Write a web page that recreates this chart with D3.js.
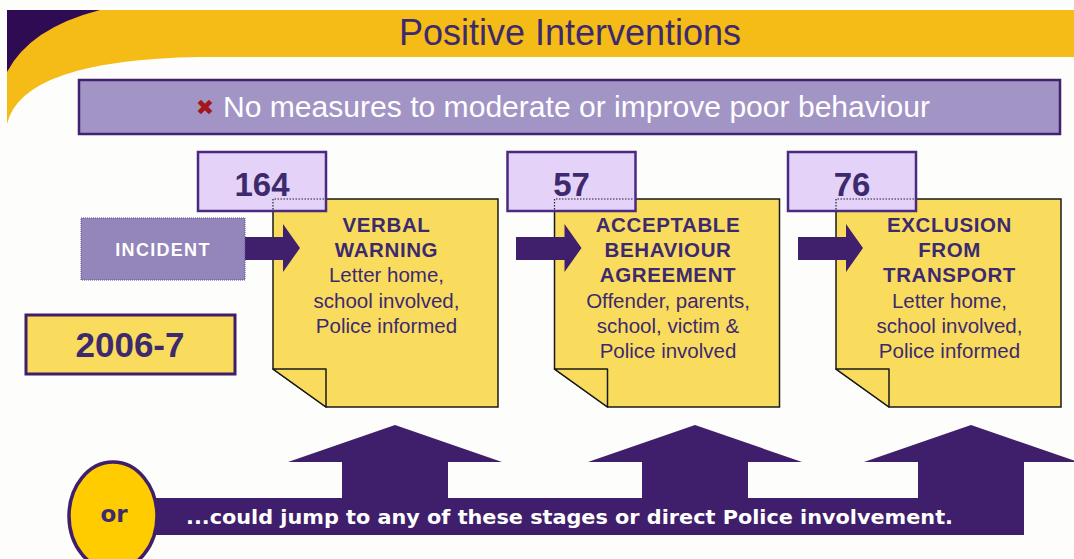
<!DOCTYPE html>
<meta charset="utf-8">
<html>
<head>
  <script src="https://d3js.org/d3.v7.min.js"></script>
  <style>
    body { margin: 0; background: #fdfdfb; }
    svg { display: block; }
  </style>
</head>
<body>
<div id="chart"></div>
<script>
// --- data ---
var title = "Positive Interventions";
var banner = "No measures to moderate or improve poor behaviour";
var year = "2006-7";
var startLabel = "INCIDENT";
var counts = [164, 57, 76];
var stageTitles = [
  ["VERBAL", "WARNING"],
  ["ACCEPTABLE", "BEHAVIOUR", "AGREEMENT"],
  ["EXCLUSION", "FROM", "TRANSPORT"]
];
var stageDetails = [
  ["Letter home,", "school involved,", "Police informed"],
  ["Offender, parents,", "school, victim &", "Police involved"],
  ["Letter home,", "school involved,", "Police informed"]
];
var orLabel = "or";
var footer = "...could jump to any of these stages or direct Police involvement.";

var width = 1074, height = 559;
var purple = "#3f1f6b", ink = "#3d2a6e";
var fontSans = "Liberation Sans, Arial, sans-serif";

var svg = d3.select("#chart").append("svg")
    .attr("width", width)
    .attr("height", height);

// --- header band ---
svg.append("rect").attr("x", 7).attr("y", 10).attr("width", width - 7).attr("height", 47)
    .attr("fill", "#f5bb17");
svg.append("path")
    .attr("d", "M7,57 L7,124 Q22,60 200,57 Z")
    .attr("fill", "#f5bb17");
svg.append("path")
    .attr("d", "M7,10 L100,10 Q30,28 7,72 Z")
    .attr("fill", "#2e0b52");
svg.append("text")
    .attr("x", 570).attr("y", 45)
    .attr("text-anchor", "middle")
    .attr("font-family", fontSans)
    .attr("font-size", 36)
    .attr("fill", ink)
    .text(title);

// --- banner ---
svg.append("rect").attr("x", 79).attr("y", 80).attr("width", 981).attr("height", 54)
    .attr("fill", "#a295c6").attr("stroke", "#40226e").attr("stroke-width", 2.5);
svg.append("text")
    .attr("x", 205).attr("y", 115)
    .attr("text-anchor", "middle")
    .attr("font-family", "DejaVu Sans, sans-serif")
    .attr("font-weight", "bold")
    .attr("font-size", 22)
    .attr("fill", "#a3161b")
    .text("\u2716");
svg.append("text")
    .attr("x", 223).attr("y", 117)
    .attr("font-family", fontSans)
    .attr("font-size", 29)
    .attr("textLength", 707)
    .attr("lengthAdjust", "spacingAndGlyphs")
    .attr("fill", "#ffffff")
    .text(banner);

// --- stages ---
var x = d3.scaleLinear().domain([0, counts.length - 1]).range([273, 836]);
var noteW = 225, noteTop = 199, noteBot = 407, fold = 53, foldH = 38;
var boxOffset = [-75, -47, -48];
var noteFill = "#f9dc5e";

var stage = svg.selectAll("g.stage")
    .data(counts)
    .enter().append("g")
    .attr("class", "stage");

stage.append("path")
    .attr("d", function(d, i) {
      var x0 = x(i), x1 = x0 + noteW;
      return "M" + x0 + "," + noteTop + "L" + x1 + "," + noteTop + "L" + x1 + "," + noteBot +
             "L" + (x0 + fold) + "," + noteBot + "L" + x0 + "," + (noteBot - foldH) + "Z";
    })
    .attr("fill", noteFill).attr("stroke", "#1a1a1a").attr("stroke-width", 1.5);

stage.append("path")
    .attr("d", function(d, i) {
      var x0 = x(i);
      return "M" + x0 + "," + (noteBot - foldH) + "L" + (x0 + fold) + "," + (noteBot - foldH) +
             "L" + (x0 + fold) + "," + noteBot + "Z";
    })
    .attr("fill", noteFill).attr("stroke", "#1a1a1a").attr("stroke-width", 1.5)
    .attr("stroke-linejoin", "round");

// stage text
stage.each(function(d, i) {
  var g = d3.select(this), cx = x(i) + noteW / 2 + 1;
  var lines = stageTitles[i].map(function(t) { return {t: t, b: true}; })
      .concat(stageDetails[i].map(function(t) { return {t: t, b: false}; }));
  g.selectAll("text.line").data(lines).enter().append("text")
      .attr("class", "line")
      .attr("x", cx)
      .attr("y", function(l, j) { return 232 + j * 25.2; })
      .attr("text-anchor", "middle")
      .attr("font-family", fontSans)
      .attr("font-weight", function(l) { return l.b ? "bold" : "normal"; })
      .attr("font-size", function(l) { return l.b ? 20.5 : 20.5; })
      .attr("letter-spacing", function(l) { return l.b ? 0.6 : 0; })
      .attr("fill", ink)
      .text(function(l) { return l.t; });
});

// count boxes
stage.append("rect")
    .attr("x", function(d, i) { return x(i) + boxOffset[i]; })
    .attr("y", 152).attr("width", 128).attr("height", 59)
    .attr("fill", "#e4d2f9").attr("stroke", "#4a2a80").attr("stroke-width", 2.5);
stage.append("path")
    .attr("d", function(d, i) {
      var x0 = x(i), xr = x0 + boxOffset[i] + 126;
      return "M" + x0 + ",209.5L" + x0 + "," + noteTop + "L" + xr + "," + noteTop;
    })
    .attr("fill", "none").attr("stroke", "#222").attr("stroke-width", 1.2)
    .attr("stroke-dasharray", "1.5,1.5");
stage.append("text")
    .attr("x", function(d, i) { return x(i) + boxOffset[i] + 64; })
    .attr("y", 196)
    .attr("text-anchor", "middle")
    .attr("font-family", fontSans)
    .attr("font-weight", "bold")
    .attr("font-size", 33)
    .attr("fill", ink)
    .text(function(d) { return d; });

// incident box
svg.append("rect").attr("x", 81).attr("y", 218).attr("width", 164).attr("height", 62)
    .attr("fill", "#9485ba").attr("stroke", "#5d4a8e").attr("stroke-width", 1)
    .attr("stroke-dasharray", "1,1");
svg.append("text")
    .attr("x", 163).attr("y", 256)
    .attr("text-anchor", "middle")
    .attr("font-family", fontSans)
    .attr("font-weight", "bold")
    .attr("font-size", 18)
    .attr("letter-spacing", 1.3)
    .attr("fill", "#ffffff")
    .text(startLabel);

// right arrows into each stage
var arrowStart = [235, 516, 798];
stage.append("path")
    .attr("d", function(d, i) {
      var tip = x(i) + 27, s = arrowStart[i], h = tip - 17;
      return "M" + s + ",237L" + h + ",237L" + h + ",224L" + tip + ",248L" + h + ",272L" + h + ",260L" + s + ",260Z";
    })
    .attr("fill", "#40206c");

// year box
svg.append("rect").attr("x", 26).attr("y", 315).attr("width", 209).attr("height", 59)
    .attr("fill", noteFill).attr("stroke", "#3f1f6b").attr("stroke-width", 3);
svg.append("text")
    .attr("x", 130).attr("y", 357)
    .attr("text-anchor", "middle")
    .attr("font-family", fontSans)
    .attr("font-weight", "bold")
    .attr("font-size", 35)
    .attr("fill", ink)
    .text(year);

// --- bottom: up arrows and bar ---
var upCenters = [395, 695, 971];
svg.selectAll("path.up")
    .data(counts)
    .enter().append("path")
    .attr("class", "up")
    .attr("d", function(d, i) {
      var c = upCenters[i];
      return "M" + (c - 53) + ",500L" + (c - 53) + ",462L" + (c - 107) + ",462L" + c + ",425L" +
             (c + 107) + ",462L" + (c + 53) + ",462L" + (c + 53) + ",500Z";
    })
    .attr("fill", purple);
svg.append("rect").attr("x", 140).attr("y", 498).attr("width", 884).attr("height", 37)
    .attr("fill", purple);
svg.append("text")
    .attr("x", 186).attr("y", 524)
    .attr("font-family", "DejaVu Sans, Verdana, sans-serif")
    .attr("font-weight", "bold")
    .attr("font-size", 19.5)
    .attr("textLength", 767)
    .attr("lengthAdjust", "spacingAndGlyphs")
    .attr("fill", "#ffffff")
    .text(footer);

svg.append("ellipse")
    .attr("cx", 113).attr("cy", 516).attr("rx", 44).attr("ry", 54)
    .attr("fill", "#ffcc00").attr("stroke", purple).attr("stroke-width", 3.5);
svg.append("text")
    .attr("x", 114).attr("y", 522)
    .attr("text-anchor", "middle")
    .attr("font-family", "DejaVu Sans, Verdana, sans-serif")
    .attr("font-weight", "bold")
    .attr("font-size", 23)
    .attr("fill", ink)
    .text(orLabel);
</script>
</body>
</html>
